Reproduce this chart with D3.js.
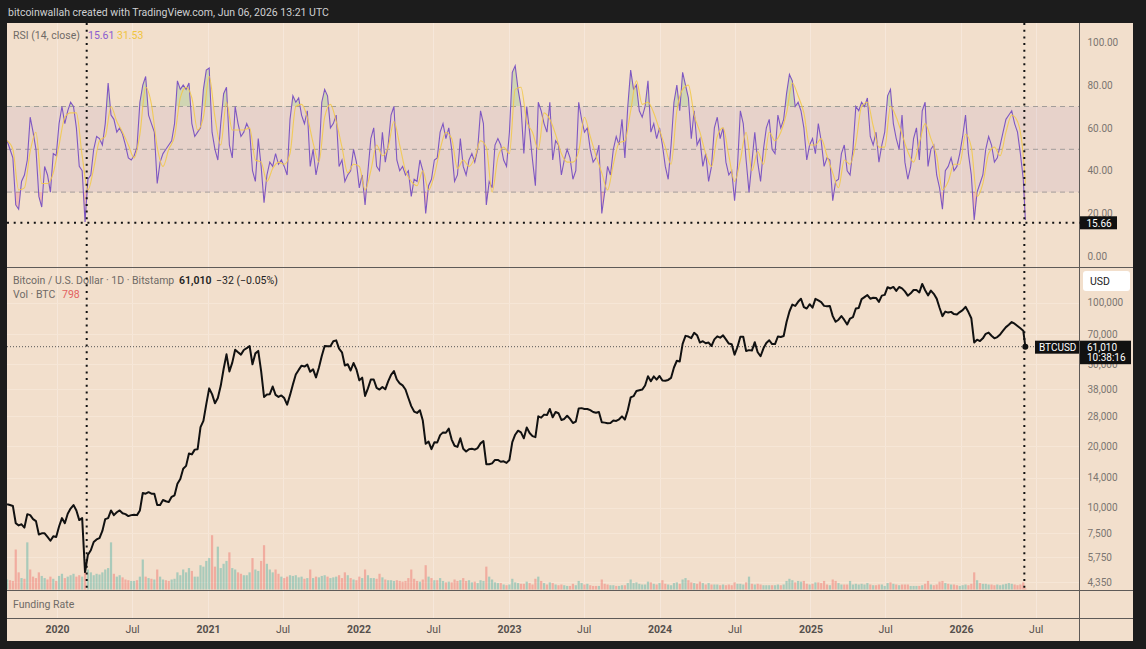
<!DOCTYPE html>
<meta charset="utf-8">
<script src="https://d3js.org/d3.v7.min.js"></script>
<style>
  body { margin: 0; background: #1c1c1c; }
  svg { display: block; font-family: Roboto, "Noto Sans", sans-serif; }
</style>
<body>
<script>
// weekly samples, one per Monday starting 2019-09-02; the last value is 2026-06-06
var closes = [
  // 2019
  10400,10300,10200,8400,8200,8300,8000,9300,9200,8800,8600,7400,7500,7500,7200,6900,7250,7200,
  // 2020
  8100,8900,8400,9350,9900,10300,9700,8700,8900,4850,5900,6200,6800,
  7000,7100,7700,8800,8900,9700,9200,9500,9700,9400,9300,9100,9200,
  9250,9200,9700,11800,11700,11900,11700,11700,10300,10300,10900,10750,10650,
  11300,11500,13100,13800,15500,16000,18400,18200,19200,19300,24700,26500,32000,
  // 2021
  38200,35800,32300,34300,39300,47500,56000,46200,51000,59000,57300,55800,58800,
  60000,61500,50100,56600,58200,46400,34700,35700,35800,39000,35500,34700,35300,
  34250,31800,35400,39900,44600,47000,49300,48800,49900,46000,47300,43200,48200,
  54900,61500,61300,61300,64900,65500,59700,57300,49400,50100,46700,50800,47300,
  // 2022
  41800,43100,35100,38200,42200,42200,38400,37700,38800,37800,41300,44500,46400,
  42200,40400,39500,37700,34300,31300,29450,29000,29900,26600,20500,21000,19300,
  20850,20800,22600,23300,23200,24300,21500,20050,19800,21800,19400,18800,19300,
  19400,19200,19550,20600,21150,16300,16300,16450,17100,17100,16750,16840,16540,
  // 2023
  17100,20900,22700,23750,23300,21800,24600,23150,22350,22100,27900,27500,28450,
  28300,30300,27600,29300,28900,26800,27100,28100,27100,25900,26300,30500,30600,
  30300,30300,29900,29300,29050,29300,26100,26000,25800,25900,26600,26500,27000,
  27900,26900,29900,34500,35000,37100,37400,37700,39450,43800,41400,43700,42150,
  // 2024
  43900,41700,41600,42000,43000,48300,52100,51700,63000,68900,68400,67200,71300,
  69400,63900,64900,63400,63900,61500,66200,68500,67500,69300,66200,63200,62700,
  55800,60800,68200,68200,58100,58700,58400,64200,57300,54800,59900,63600,65600,
  62800,62800,68400,68000,68800,80500,90600,97900,96400,101000,104500,95200,93700,98300,
  // 2025
  94500,104400,102600,100600,96500,96200,96300,86000,80700,82600,86100,82400,78300,
  83700,85100,93700,94300,104100,106500,109000,104600,105700,105500,100900,108300,109200,
  119000,117300,119400,114200,119300,117400,113500,108200,111100,115300,115300,112200,123500,
  115000,108600,114500,110500,104700,94500,86000,90500,89500,90200,88000,87500,90000,
  // 2026
  92000,95500,90000,84000,64000,66000,65000,67000,70500,71500,69000,67000,68000,70000,
  73000,76000,78000,80500,79000,77000,75000,73000,
  61010
];

var volumes = [
  7000,6500,6000,28000,12000,8000,7500,33000,14000,9000,8000,12000,9500,8000,7000,9000,7500,6000,
  9500,11000,8000,9000,10000,11000,9000,10000,9000,19000,14000,12000,10000,
  11000,10500,12000,14000,15000,33000,11000,9000,10000,8500,7000,6500,6000,
  6000,6500,9000,21000,9000,8000,7500,7000,14000,9000,7000,6500,6000,
  7000,7500,12000,10000,14000,12000,15000,13000,9000,9000,17000,16000,20000,
  22000,38000,16000,30000,15000,18000,20000,26000,15000,14000,12000,11000,10000,
  10000,12000,22000,14000,13000,20000,31000,18000,14000,12000,14000,11000,9000,
  8000,9000,10000,9500,10000,8500,9000,7500,8000,14000,8000,9000,8500,
  9500,10000,9000,8000,8500,9000,10000,8000,12000,10000,8000,7000,6500,
  9000,8000,14000,10000,8000,8000,7500,11000,8500,7000,6500,6500,6000,
  6500,6000,5500,6000,8000,14000,7500,6000,5500,7000,17000,9000,8000,
  6500,6500,8000,6000,5000,5500,5000,7000,6000,6500,8000,6000,6500,
  5000,5500,4500,6500,6000,16000,9000,7000,5000,4500,4500,3500,3000,
  3500,7500,5000,4500,4000,4000,5500,4500,3500,7500,9000,6000,4500,
  3500,5000,4500,3500,3000,3500,3000,2500,2500,4000,3000,6000,4500,
  3500,4000,3000,2500,2500,2500,7000,4000,3500,3000,3000,2500,2500,
  3000,3000,4500,7000,4500,5000,4000,3500,3500,5500,5000,4000,3500,
  4500,6500,4000,3500,3000,4500,5000,4000,7000,8000,6500,5000,4500,
  4000,5500,4500,3500,4500,3500,3500,3500,3000,3500,3000,3500,3000,
  5000,4000,4000,3500,5000,9000,4000,3500,4000,3500,3000,3000,3000,
  3000,3000,3500,3000,3500,6000,7500,6500,5000,6000,5500,6000,4000,3500,
  4000,5000,5000,4500,6000,3500,3000,7000,6000,4500,3500,3500,3500,
  6000,3500,4000,3500,4000,3500,4500,3500,3000,3000,3500,3500,2500,
  4500,5000,4000,3500,3000,3500,3500,3500,2500,2500,2500,2500,3000,
  4000,6000,3500,3000,3500,5500,6000,4500,4000,3500,3500,3000,2500,
  3000,3500,3000,4000,12000,6500,4500,4000,4000,3500,3500,3000,3500,3000,
  3500,4000,4500,4000,3500,3000,3500,5000,
  798
];

var rsi = [
  54,50,46,24,22,35,38,45,65,58,50,28,23,42,38,30,48,47,
  62,70,62,68,72,70,60,42,40,16,36,38,50,
  56,55,52,62,81,66,64,58,60,57,52,46,45,
  47,51,72,80,84,66,62,58,34,44,48,50,52,
  54,62,82,78,80,78,81,62,56,58,60,78,87,
  88,58,50,45,62,76,79,52,46,70,62,56,58,
  62,59,40,35,55,42,25,38,44,42,48,43,45,
  42,38,64,75,72,74,66,62,68,42,50,38,45,
  72,78,75,60,62,66,42,45,35,38,40,50,44,
  32,38,24,40,55,60,42,40,58,44,52,66,70,
  45,40,42,38,40,28,36,35,45,40,20,33,36,
  45,46,58,62,55,60,50,35,38,55,42,38,45,
  48,44,50,68,62,24,35,32,52,55,52,45,42,
  58,86,89,78,70,48,70,58,45,33,72,68,62,
  58,72,45,54,52,38,45,50,46,36,40,72,64,
  58,60,50,44,46,52,20,30,42,38,50,56,52,
  64,46,70,87,78,80,68,65,70,82,58,62,55,
  60,52,42,36,52,72,80,68,86,80,74,55,68,
  52,55,42,48,35,42,60,65,55,60,44,38,40,
  26,42,68,62,45,30,44,58,44,35,50,60,64,
  50,48,66,60,64,76,85,82,70,72,68,60,45,52,
  55,48,62,54,42,46,45,26,35,36,48,52,40,
  38,50,70,68,72,70,74,56,52,58,44,52,58,
  75,78,62,55,50,66,44,36,42,55,60,45,68,
  72,42,50,52,38,32,22,40,42,46,40,42,48,
  56,66,48,38,17,30,34,38,50,56,52,44,46,52,
  58,64,66,68,62,58,48,36,
  17
];

// RSI moving average, one value every two weeks, last value on 2026-06-06
var rsiMa = [
  54,50,31,32,49,58,34,34,39,
  52,65,67,67,47,31,41,54,56,70,63,58,52,46,57,79,71,51,42,50,56,74,79,74,59,65,
  84,65,52,72,59,59,59,60,45,44,35,41,44,43,48,70,71,65,53,44,65,71,63,51,39,43,
  42,31,40,52,47,51,63,52,40,35,33,40,31,38,50,58,55,41,45,42,46,54,51,30,46,51,
  48,78,79,63,58,50,67,64,57,48,44,44,49,65,56,47,39,31,43,53,54,68,82,71,72,67,
  59,51,43,68,78,80,66,58,48,42,56,60,47,35,45,58,40,49,43,58,54,58,67,81,75,67,
  52,52,55,47,39,32,45,43,53,70,72,61,51,51,70,65,57,49,44,53,62,55,47,31,35,43,
  43,57,51,28,34,48,51,47,58,66,63,47,
  34
];

var priceTicks = [100000, 70000, 50000, 38000, 28000, 20000, 14000, 10000, 7500, 5750, 4350];
var rsiTicks = [0, 20, 40, 60, 80, 100];
var timeTicks = ["2020-01-01","2020-07-01","2021-01-01","2021-07-01","2022-01-01","2022-07-01",
  "2023-01-01","2023-07-01","2024-01-01","2024-07-01","2025-01-01","2025-07-01","2026-01-01","2026-07-01"];
var crossDate = "2020-03-13", crossRsi = 15.66;
var lastPrice = 61010, lastVol = 798;

var DAY = 864e5;
var t0 = Date.UTC(2019, 8, 2);
var tEnd = new Date(Date.UTC(2026, 5, 6));
function weekDate(i, n, step) { return i === n - 1 ? tEnd : new Date(t0 + i * step * 7 * DAY); }

var W = 1146, H = 649;
var L = 7, R = 1079.5, AR = 1133;
var rsiTop = 23, rsiBot = 267, pTop = 268, pBot = 590, fBot = 618, tBot = 641;
var bg = "#f2dfcc";

var x = d3.scaleUtc().domain([new Date("2020-01-01"), new Date("2026-01-01")]).range([57, 961]);
var yR = d3.scaleLinear().domain([0, 100]).range([256.3, 42.3]);
var yP = d3.scaleLog().domain([10000, 100000]).range([507.7, 302.7]);
var yV = d3.scaleLinear().domain([0, 38500]).range([589.5, 534.5]);

var svg = d3.select("body").append("svg").attr("width", W).attr("height", H);
svg.append("rect").attr("width", W).attr("height", H).attr("fill", "#1c1c1c");
svg.append("rect").attr("x", L).attr("y", rsiTop).attr("width", AR - L).attr("height", tBot - rsiTop).attr("fill", bg);

var defs = svg.append("defs");
defs.append("clipPath").attr("id", "clipR").append("rect").attr("x", L).attr("y", rsiTop).attr("width", R - L).attr("height", rsiBot - rsiTop);
defs.append("clipPath").attr("id", "clipP").append("rect").attr("x", L).attr("y", pTop).attr("width", R - L).attr("height", pBot - pTop);
defs.append("clipPath").attr("id", "clipOB").append("rect").attr("x", L).attr("y", rsiTop).attr("width", R - L).attr("height", yR(70) - rsiTop);
defs.append("clipPath").attr("id", "clipOS").append("rect").attr("x", L).attr("y", yR(30)).attr("width", R - L).attr("height", rsiBot - yR(30));

// faint grid
var grid = svg.append("g").attr("stroke", "#f6e7da").attr("stroke-width", 1);
timeTicks.forEach(function(t) {
  var gx = Math.round(x(new Date(t))) + 0.5;
  grid.append("line").attr("x1", gx).attr("x2", gx).attr("y1", rsiTop).attr("y2", fBot);
});

// header
svg.append("text").attr("x", 8).attr("y", 16).attr("fill", "#cfd0d2").style("font-size", "10.5px")
  .text("bitcoinwallah created with TradingView.com, Jun 06, 2026 13:21 UTC");

// ---------- RSI pane ----------
var rsiPts = rsi.map(function(v, i) { return { d: weekDate(i, rsi.length, 1), v: v }; });
var maPts = rsiMa.map(function(v, i) { return { d: weekDate(i, rsiMa.length, 2), v: v }; });

svg.append("rect").attr("x", L).attr("y", yR(70)).attr("width", R - L).attr("height", yR(30) - yR(70))
  .attr("fill", "rgba(126,87,194,0.09)");
[70, 50, 30].forEach(function(v) {
  svg.append("line").attr("x1", L).attr("x2", R).attr("y1", yR(v)).attr("y2", yR(v))
    .attr("stroke", "#a39d9a").attr("stroke-dasharray", "5,4");
});

var gR = svg.append("g").attr("clip-path", "url(#clipR)");
var areaOB = d3.area().x(function(d) { return x(d.d); }).y0(yR(70)).y1(function(d) { return yR(d.v); });
var areaOS = d3.area().x(function(d) { return x(d.d); }).y0(yR(30)).y1(function(d) { return yR(d.v); });
gR.append("path").datum(rsiPts).attr("d", areaOB).attr("fill", "rgba(76,175,80,0.2)").attr("clip-path", "url(#clipOB)");
gR.append("path").datum(rsiPts).attr("d", areaOS).attr("fill", "rgba(242,54,69,0.2)").attr("clip-path", "url(#clipOS)");

var lineR = d3.line().x(function(d) { return x(d.d); }).y(function(d) { return yR(d.v); });
gR.append("path").datum(rsiPts).attr("d", lineR).attr("fill", "none").attr("stroke", "#7e57c2").attr("stroke-width", 1.1);
gR.append("path").datum(maPts).attr("d", lineR.curve(d3.curveMonotoneX)).attr("fill", "none")
  .attr("stroke", "#f2c94c").attr("stroke-width", 1.1).attr("opacity", 0.9);

svg.append("text").attr("x", 13).attr("y", 39).attr("fill", "#6f6a66").style("font-size", "10.5px").text("RSI (14, close)");
svg.append("text").attr("x", 88).attr("y", 39).attr("fill", "#8a5cd0").style("font-size", "10.5px").text("15.61");
svg.append("text").attr("x", 117).attr("y", 39).attr("fill", "#f0c43c").style("font-size", "10.5px").text("31.53");

var axR = svg.append("g").attr("transform", "translate(" + R + ",0)")
  .call(d3.axisRight(yR).tickValues(rsiTicks).tickSize(0).tickPadding(8).tickFormat(d3.format(".2f")));
axR.select(".domain").remove();
axR.selectAll("text").attr("fill", "#7b7671").style("font-size", "10px").attr("font-family", "Roboto, sans-serif");

// ---------- price pane ----------
var pricePts = closes.map(function(v, i) { return { d: weekDate(i, closes.length, 1), v: v, vol: volumes[i], up: i === 0 || v >= closes[i - 1] }; });

var gP = svg.append("g").attr("clip-path", "url(#clipP)");
priceTicks.forEach(function(v) {
  gP.append("line").attr("x1", L).attr("x2", R).attr("y1", Math.round(yP(v)) + 0.5).attr("y2", Math.round(yP(v)) + 0.5)
    .attr("stroke", "#f6e6d6");
});
gP.selectAll("rect.vol").data(pricePts).enter().append("rect").attr("class", "vol")
  .attr("x", function(d) { return x(d.d) - 1.1; })
  .attr("width", 2.2)
  .attr("y", function(d) { return yV(d.vol); })
  .attr("height", function(d) { return yV(0) - yV(d.vol); })
  .attr("fill", function(d) { return d.up ? "rgba(38,166,154,0.36)" : "rgba(239,83,80,0.36)"; });

gP.append("line").attr("x1", L).attr("x2", 1035).attr("y1", yP(lastPrice)).attr("y2", yP(lastPrice))
  .attr("stroke", "#555").attr("stroke-dasharray", "1,2");

var lineP = d3.line().x(function(d) { return x(d.d); }).y(function(d) { return yP(d.v); });
gP.append("path").datum(pricePts).attr("d", lineP).attr("fill", "none").attr("stroke", "#111")
  .attr("stroke-width", 2).attr("stroke-linejoin", "round");
svg.append("circle").attr("cx", x(tEnd)).attr("cy", yP(lastPrice)).attr("r", 3).attr("fill", "#111");

svg.append("text").attr("x", 13).attr("y", 284).attr("fill", "#6f6a66").style("font-size", "10.5px")
  .text("Bitcoin / U.S. Dollar · 1D · Bitstamp");
svg.append("text").attr("x", 179).attr("y", 284).attr("fill", "#222").style("font-size", "10.5px").attr("font-weight", 600)
  .text(d3.format(",")(lastPrice));
svg.append("text").attr("x", 216).attr("y", 284).attr("fill", "#222").style("font-size", "10.5px")
  .text("\u221232 (\u22120.05%)");
svg.append("text").attr("x", 13).attr("y", 298).attr("fill", "#6f6a66").style("font-size", "10.5px").text("Vol · BTC");
svg.append("text").attr("x", 62).attr("y", 298).attr("fill", "#e2615f").style("font-size", "10.5px").text(lastVol);

var axP = svg.append("g").attr("transform", "translate(" + R + ",0)")
  .call(d3.axisRight(yP).tickValues(priceTicks).tickSize(0).tickPadding(8).tickFormat(d3.format(",")));
axP.select(".domain").remove();
axP.selectAll("text").attr("fill", "#7b7671").style("font-size", "10px").attr("font-family", "Roboto, sans-serif");

// ---------- funding pane ----------
svg.append("text").attr("x", 13).attr("y", 608).attr("fill", "#6f6a66").style("font-size", "10.5px").text("Funding Rate");

// ---------- time axis ----------
var axT = svg.append("g").attr("transform", "translate(0," + fBot + ")")
  .call(d3.axisBottom(x).tickValues(timeTicks.map(function(t) { return new Date(t); })).tickSize(0).tickPadding(8)
    .tickFormat(function(d) { return d.getUTCMonth() === 0 ? d.getUTCFullYear() : "Jul"; }));
axT.select(".domain").remove();
axT.selectAll("text").attr("fill", "#55504c").style("font-size", "10.5px").attr("font-family", "Roboto, sans-serif")
  .attr("font-weight", function(d) { return d.getUTCMonth() === 0 ? 700 : 400; });

// ---------- separators ----------
var sep = svg.append("g").attr("stroke", "#5e5a57").attr("stroke-width", 1);
[rsiBot + 0.5, pBot + 0.5, fBot + 0.5].forEach(function(yy) {
  sep.append("line").attr("x1", L).attr("x2", AR).attr("y1", yy).attr("y2", yy);
});
sep.append("line").attr("x1", R).attr("x2", R).attr("y1", rsiTop).attr("y2", tBot);

// ---------- crosshair & markers ----------
var dots = svg.append("g").attr("stroke", "#111").attr("stroke-width", 2).attr("stroke-dasharray", "2,4.7");
var cx = x(new Date(crossDate));
dots.append("line").attr("x1", cx).attr("x2", cx).attr("y1", rsiTop).attr("y2", pBot);
dots.append("line").attr("x1", x(tEnd) - 1).attr("x2", x(tEnd) - 1).attr("y1", rsiTop).attr("y2", pBot);
dots.append("line").attr("x1", L).attr("x2", R).attr("y1", yR(crossRsi)).attr("y2", yR(crossRsi));

// RSI crosshair label
svg.append("rect").attr("x", R + 0.5).attr("y", yR(crossRsi) - 6.5).attr("width", 37).attr("height", 13).attr("fill", "#111");
svg.append("text").attr("x", R + 7).attr("y", yR(crossRsi) + 3.8).attr("fill", "#fff").style("font-size", "10px").text(crossRsi.toFixed(2));

// USD box
svg.append("rect").attr("x", 1083).attr("y", 271).attr("width", 47).attr("height", 20).attr("rx", 3).attr("fill", "#fff");
svg.append("text").attr("x", 1090).attr("y", 285).attr("fill", "#222").style("font-size", "10.5px").text("USD");

// last price labels
var py = yP(lastPrice);
svg.append("rect").attr("x", 1035).attr("y", py - 6).attr("width", 44).attr("height", 13).attr("fill", "#111");
svg.append("text").attr("x", 1039).attr("y", py + 4).attr("fill", "#fff").style("font-size", "10px").text("BTCUSD");
svg.append("rect").attr("x", R + 0.5).attr("y", py - 6).attr("width", 51).attr("height", 23.5).attr("fill", "#111");
svg.append("text").attr("x", 1087).attr("y", py + 4).attr("fill", "#fff").style("font-size", "10px").text(d3.format(",")(lastPrice));
svg.append("text").attr("x", 1087).attr("y", py + 14.5).attr("fill", "#fff").style("font-size", "10px").text("10:38:16");
</script>
</body>
